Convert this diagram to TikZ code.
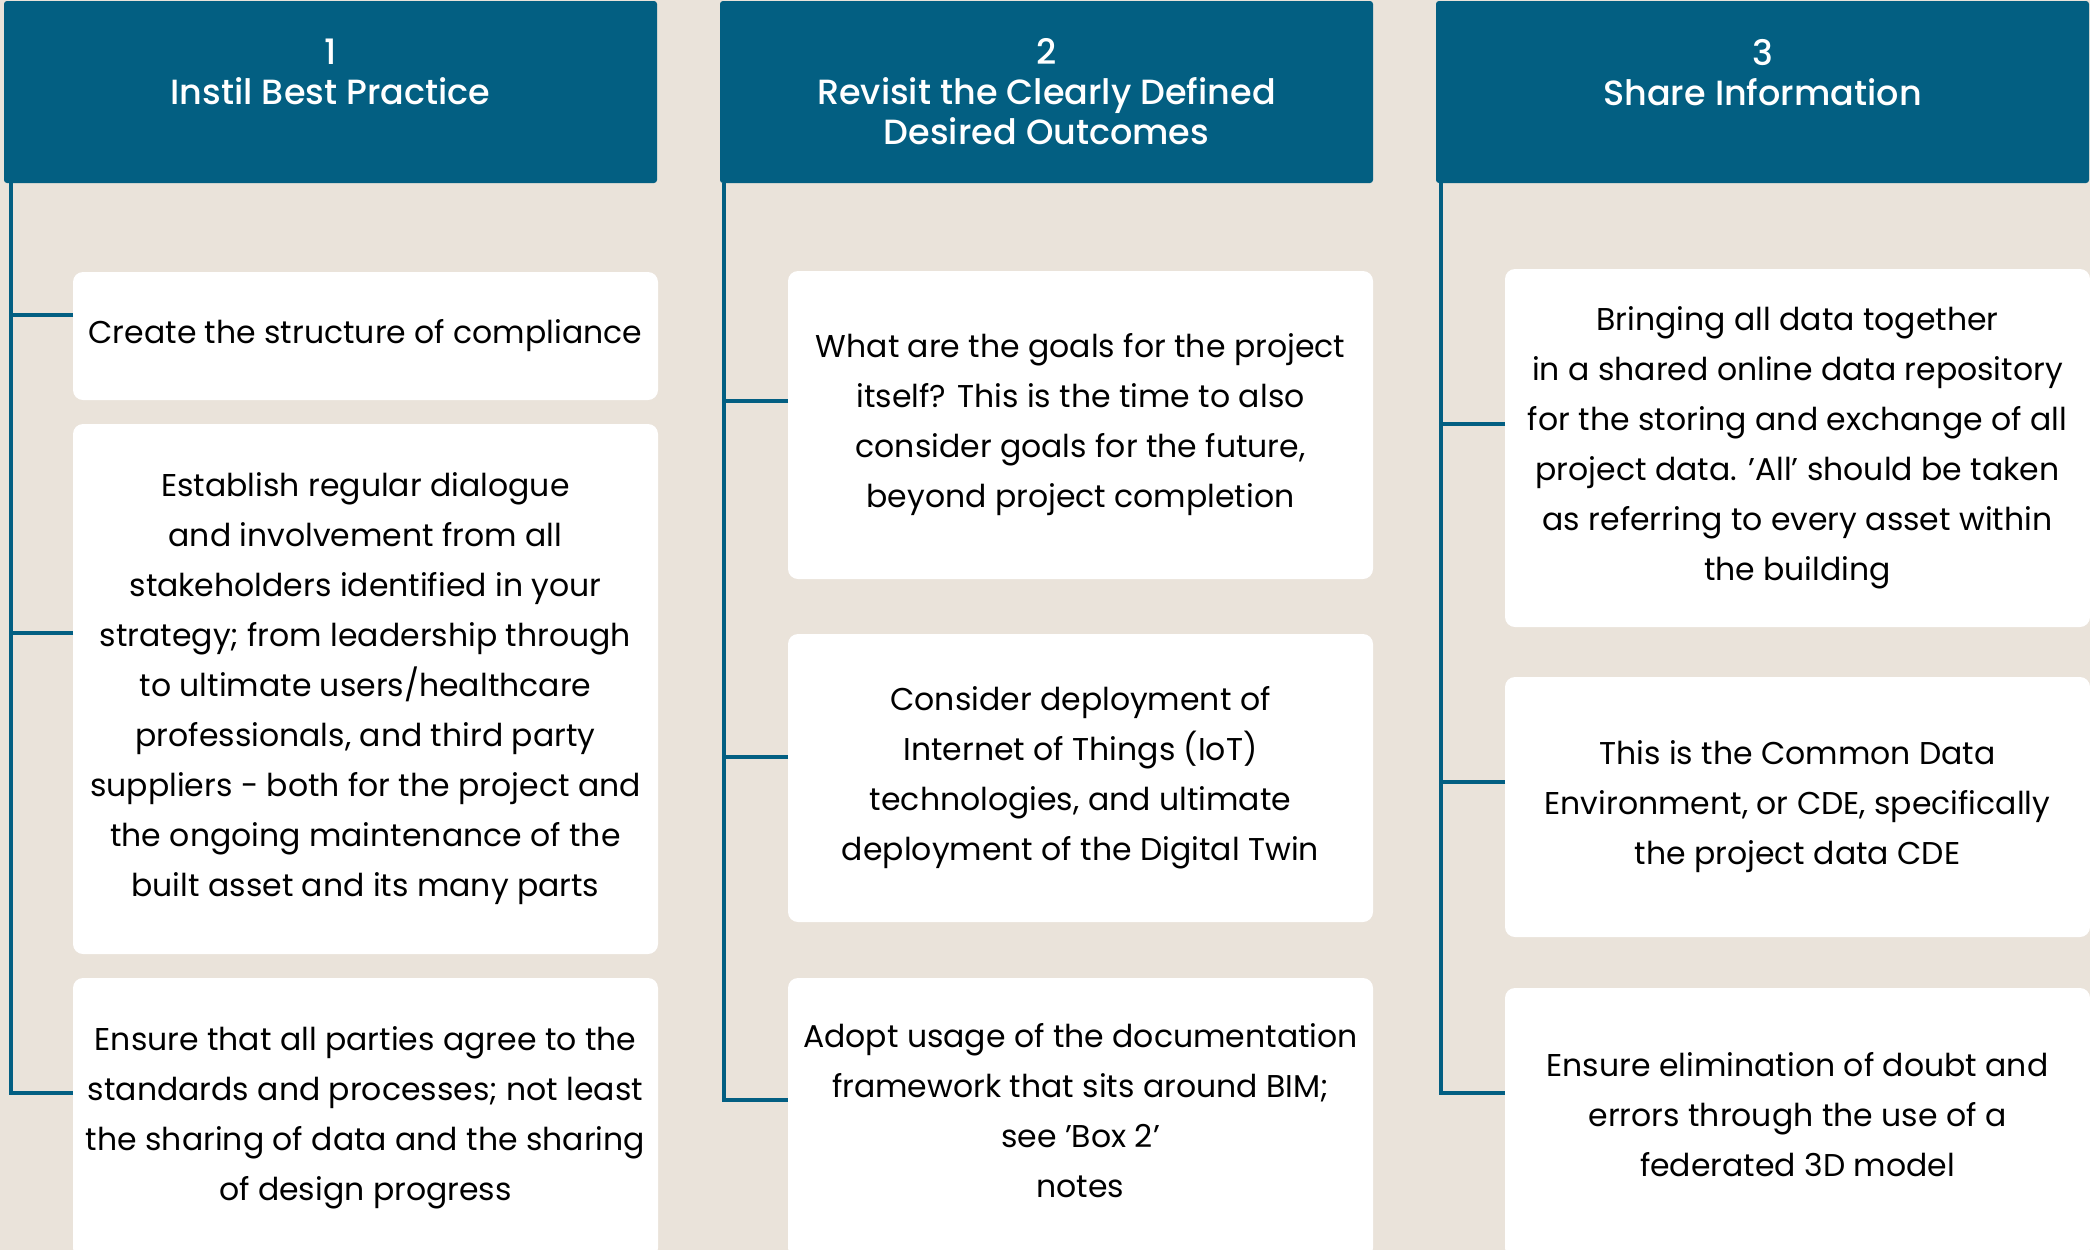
\documentclass[tikz,border=0pt]{standalone}
\usepackage{fontspec}
\setmainfont{Poppins}[BoldFont={Poppins Medium}]
\usetikzlibrary{positioning,calc}
\definecolor{headblue}{HTML}{035F82}
\definecolor{paper}{HTML}{EAE3DA}

\begin{document}
\begin{tikzpicture}[x=0.5pt,y=-0.5pt,every node/.style={outer sep=0pt}]
\tikzstyle{head}=[fill=headblue,text=white,rounded corners=1.5pt,anchor=north west,
minimum width=326.5pt,minimum height=91pt,align=center,inner sep=0pt,
font=\bfseries\fontsize{17.5}{20}\selectfont]
\tikzstyle{card}=[fill=white,rounded corners=5pt,anchor=north west,
minimum width=292.5pt,align=center,inner sep=0pt,
font=\fontsize{15.75}{25}\selectfont]
\tikzstyle{link}=[draw=headblue,line width=1.75pt]
\fill[paper] (0,0) rectangle (2090,1250);
\useasboundingbox (0,0) rectangle (2090,1250);
% column 1
\node (h1) [head] at (4,1) {1\\Instil Best Practice\\~};
\node (a1) [card,minimum height=64pt] at (73,272) {Create the structure of compliance};
\node (a2) [card,minimum height=265pt] at (73,424) {Establish regular dialogue\\
and involvement from all\\stakeholders identified in your\\strategy; from leadership through\\
to ultimate users/healthcare\\professionals, and third party\\suppliers - both for the project and\\
the ongoing maintenance of the\\built asset and its many parts};
\node (a3) [card,minimum height=140pt] at (73,978) {Ensure that all parties agree to the\\
standards and processes; not least\\the sharing of data and the sharing\\of design progress};
\draw [link] ([xshift=3.5pt]h1.south west) |- ([yshift=-57.5pt]a3.north west);
\draw [link] ([yshift=10.5pt]a1.west) -- ++(-62,0);
\draw [link] ([yshift=28pt]a2.west) -- ++(-62,0);
%
% column 2
\node (h2) [head] at (720,1) {2\\Revisit the Clearly Defined\\Desired Outcomes};
\node (b1) [card,minimum height=154pt] at (788,271) {What are the goals for the project\\
itself? This is the time to also\\consider goals for the future,\\beyond project completion};
\node (b2) [card,minimum height=144pt] at (788,634) {Consider deployment of\\
Internet of Things (IoT)\\technologies, and ultimate\\deployment of the Digital Twin};
\node (b3) [card,minimum height=140pt] at (788,978) {Adopt usage of the documentation\\
framework that sits around BIM;\\see 'Box 2'\\notes\\[-17pt]~};
\draw [link] ([xshift=2pt]h2.south west) |- ([yshift=-61pt]b3.north west);
\draw [link] ([yshift=12pt]b1.west) -- ++(-64,0);
\draw [link] ([yshift=10.5pt]b2.west) -- ++(-64,0);
%
% column 3
\node (h3) [head] at (1436,1) {3\\Share Information\\~};
\node (c1) [card,minimum height=179pt] at (1505,269) {Bringing all data together\\
in a shared online data repository\\for the storing and exchange of all\\
project data. 'All' should be taken\\as referring to every asset within\\the building};
\node (c2) [card,minimum height=130pt] at (1505,677) {This is the Common Data\\
Environment, or CDE, specifically\\the project data CDE};
\node (c3) [card,minimum height=135pt] at (1505,988) {Ensure elimination of doubt and\\
errors through the use of a\\federated 3D model\\[-16.5pt]~};
\draw [link] ([xshift=2.5pt]h3.south west) |- ([yshift=-52.5pt]c3.north west);
\draw [link] ([yshift=12pt]c1.west) -- ++(-64,0);
\draw [link] ([yshift=12.5pt]c2.west) -- ++(-64,0);
\end{tikzpicture}
\end{document}
